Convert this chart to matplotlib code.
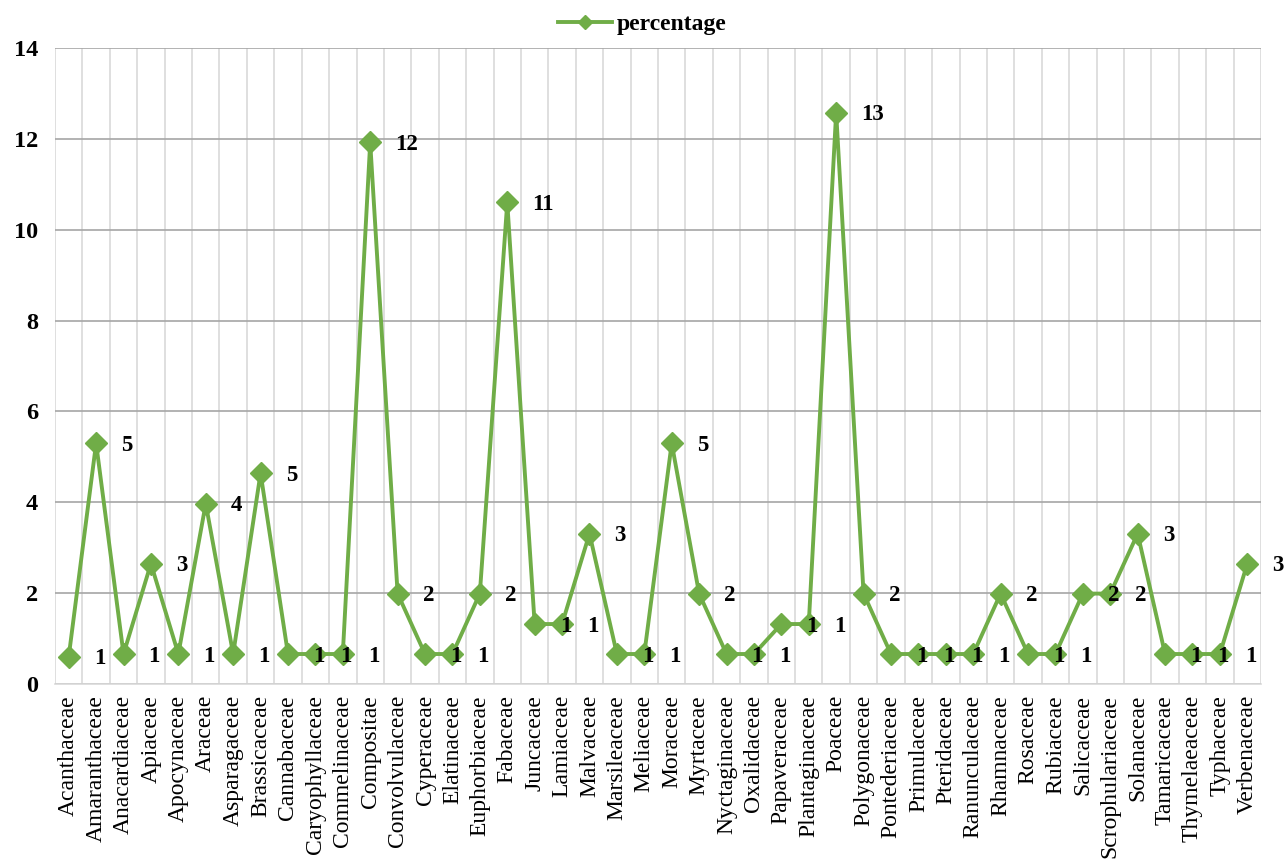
import matplotlib.pyplot as plt
import numpy as np

families = ["Acanthaceae", "Amaranthaceae", "Anacardiaceae", "Apiaceae", "Apocynaceae",
            "Araceae", "Asparagaceae", "Brassicaceae", "Cannabaceae", "Caryophyllaceae",
            "Commelinaceae", "Compositae", "Convolvulaceae", "Cyperaceae", "Elatinaceae",
            "Euphorbiaceae", "Fabaceae", "Juncaceae", "Lamiaceae", "Malvaceae",
            "Marsileaceae", "Meliaceae", "Moraceae", "Myrtaceae", "Nyctaginaceae",
            "Oxalidaceae", "Papaveraceae", "Plantaginaceae", "Poaceae", "Polygonaceae",
            "Pontederiaceae", "Primulaceae", "Pteridaceae", "Ranunculaceae", "Rhamnaceae",
            "Rosaceae", "Rubiaceae", "Salicaceae", "Scrophulariaceae", "Solanaceae",
            "Tamaricaceae", "Thymelaeaceae", "Typhaceae", "Verbenaceae"]

percentage = [0.60, 5.30, 0.66, 2.65, 0.66,
              3.97, 0.66, 4.64, 0.66, 0.66,
              0.66, 11.92, 1.99, 0.66, 0.66,
              1.99, 10.60, 1.32, 1.32, 3.31,
              0.66, 0.66, 5.30, 1.99, 0.66,
              0.66, 1.32, 1.32, 12.58, 1.99,
              0.66, 0.66, 0.66, 0.66, 1.99,
              0.66, 0.66, 1.99, 1.99, 3.31,
              0.66, 0.66, 0.66, 2.65]

green = "#70AD47"
serif = "Liberation Serif"

fig = plt.figure(figsize=(12.84, 8.61), dpi=100)
ax = fig.add_axes([55 / 1284, 1 - 684 / 861, (1261 - 55) / 1284, (684 - 48) / 861])

x = np.arange(len(families))
ax.plot(x, percentage, color=green, lw=2.8, marker="D", ms=11, label="percentage")

# data labels, left edge ~25px right of the point
for xi, v in zip(x, percentage):
    ax.annotate(f"{v:.0f}", (xi, v), xytext=(18, -1.5), textcoords="offset points",
                ha="left", va="center", fontsize=16.5, fontweight="bold", family=serif)

ax.set_xlim(-0.5, len(families) - 0.5)
ax.set_ylim(0, 14)
ax.set_yticks(np.arange(0, 15, 2))
ax.set_xticks(x)
ax.set_xticklabels(families, rotation=90, fontsize=17, family=serif)
for t in ax.get_yticklabels():
    t.set_fontsize(17.5)
    t.set_fontweight("bold")
    t.set_family(serif)

ax.set_xticks(np.arange(-0.5, len(families)), minor=True)
ax.tick_params(which="both", length=0)
ax.tick_params(axis="y", pad=12)
ax.tick_params(axis="x", pad=8)
ax.grid(axis="y", which="major", color="#a6a6a6", lw=1.2)
ax.grid(axis="x", which="minor", color="#d9d9d9", lw=1.2)
ax.set_axisbelow(True)
for s in ["top", "right", "left"]:
    ax.spines[s].set_visible(False)
ax.spines["bottom"].set_color("#d9d9d9")
ax.spines["bottom"].set_linewidth(1.2)

ax.legend(loc="center", bbox_to_anchor=(0.5, 1 - 24 / 861), bbox_transform=fig.transFigure,
          frameon=False, prop={"family": serif, "weight": "bold", "size": 17},
          handlelength=2.3, handletextpad=0.2, markerscale=0.65)

fig.savefig("out.png", dpi=100)
